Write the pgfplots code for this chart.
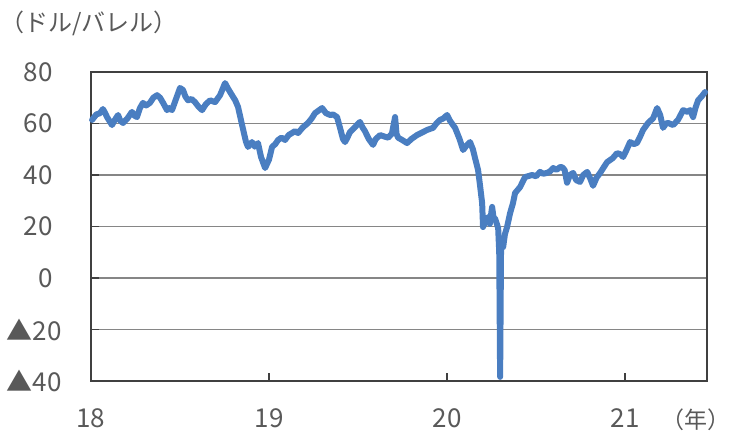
\documentclass[border=0pt]{standalone}
\usepackage{fontspec}
\setmainfont{Noto Sans CJK JP}
\usepackage{pgfplots}
\pgfplotsset{compat=1.18}
\definecolor{wti}{RGB}{74,126,193}
\definecolor{lbl}{RGB}{89,89,89}
\definecolor{grd}{RGB}{134,134,134}
\definecolor{frm}{RGB}{64,64,64}
\begin{document}
\begin{tikzpicture}[x=1pt,y=1pt]
\useasboundingbox (0,0) rectangle (732,439);
\node[anchor=west,text=lbl,font=\fontsize{24}{28}\selectfont,inner sep=0pt] at (0,416) {（ドル/バレル）};
\node[anchor=east,text=lbl,font=\fontsize{23}{27}\selectfont,inner sep=0pt] at (731,19) {（年）};
\begin{axis}[
  at={(91pt,58pt)}, anchor=south west,
  scale only axis, width=616pt, height=309pt,
  xmin=18, xmax=21.46, ymin=-40, ymax=80,
  xtick={18,19,20,21}, xticklabels={18,19,20,21},
  ytick={-40,-20,0,20,40,60,80},
  yticklabels={▲40,▲20,0\kern9pt,20\kern9pt,40\kern9pt,60\kern9pt,80\kern9pt},
  tick align=inside, tick pos=left, major tick length=8pt,
  tick style={frm, line width=1.5pt},
  axis line style={frm, line width=1.6pt},
  ymajorgrids, grid style={grd, line width=1.8pt},
  ticklabel style={text=lbl, font=\fontsize{26}{30}\selectfont, inner sep=0pt},
  xticklabel style={anchor=center, yshift=-37pt},
  yticklabel style={anchor=east, xshift=-29pt},
  clip=false,
]
\addplot[wti, line width=6pt, line join=round, line cap=round] coordinates {
(18.006,61.4)(18.030,63.5)(18.050,64.0)(18.067,65.6)(18.080,64.0)(18.090,62.5)(18.118,59.4)(18.135,61.5)(18.152,63.3)(18.165,61.0)(18.180,60.2)(18.205,62.0)(18.230,64.5)(18.245,63.0)(18.258,62.5)(18.275,66.0)(18.292,68.0)(18.310,67.0)(18.331,68.0)(18.350,70.0)(18.371,71.0)(18.388,70.0)(18.405,68.0)(18.427,65.2)(18.440,66.0)(18.455,65.2)(18.480,70.0)(18.500,73.8)(18.517,73.0)(18.530,70.5)(18.545,69.0)(18.565,69.5)(18.584,68.3)(18.604,66.5)(18.624,65.2)(18.645,67.5)(18.669,69.0)(18.697,68.3)(18.725,71.0)(18.753,75.7)(18.770,73.5)(18.792,71.0)(18.810,69.0)(18.826,66.4)(18.850,59.0)(18.870,53.0)(18.882,50.9)(18.904,52.8)(18.920,51.0)(18.938,52.4)(18.955,47.0)(18.978,42.7)(19.000,46.0)(19.017,50.9)(19.035,52.0)(19.051,53.6)(19.070,54.5)(19.090,53.6)(19.110,55.5)(19.129,56.3)(19.145,57.0)(19.163,56.3)(19.190,58.5)(19.219,60.2)(19.240,62.0)(19.258,64.0)(19.278,65.0)(19.298,66.0)(19.320,64.0)(19.343,63.3)(19.360,63.5)(19.382,62.5)(19.400,58.0)(19.415,54.0)(19.427,52.8)(19.440,54.5)(19.455,56.7)(19.475,58.0)(19.495,59.5)(19.511,60.6)(19.525,58.5)(19.539,57.0)(19.560,54.0)(19.584,51.7)(19.600,54.0)(19.624,55.5)(19.645,55.0)(19.669,54.5)(19.690,56.0)(19.708,62.5)(19.716,56.0)(19.725,54.5)(19.750,53.5)(19.775,52.4)(19.800,54.0)(19.831,55.5)(19.860,56.5)(19.888,57.5)(19.921,58.3)(19.940,60.0)(19.961,61.4)(19.980,62.0)(20.000,63.3)(20.017,61.0)(20.045,58.3)(20.070,54.0)(20.090,49.7)(20.110,51.5)(20.129,52.8)(20.145,50.0)(20.157,46.6)(20.174,42.0)(20.185,36.0)(20.197,29.1)(20.202,19.8)(20.215,22.0)(20.230,23.7)(20.240,21.0)(20.253,27.6)(20.262,23.0)(20.270,23.0)(20.287,19.4)(20.293,10.0)(20.298,-38.4)(20.303,10.0)(20.309,14.8)(20.315,12.0)(20.325,17.0)(20.337,19.8)(20.354,25.2)(20.370,29.0)(20.382,33.0)(20.410,35.3)(20.438,39.2)(20.478,40.0)(20.500,39.5)(20.522,41.2)(20.540,40.5)(20.562,40.8)(20.580,41.5)(20.596,42.7)(20.615,42.0)(20.635,43.1)(20.646,43.0)(20.660,42.0)(20.674,37.0)(20.690,40.0)(20.708,40.8)(20.725,38.0)(20.747,37.3)(20.765,40.0)(20.787,41.2)(20.805,38.5)(20.820,35.8)(20.840,39.0)(20.860,40.8)(20.880,43.0)(20.899,45.0)(20.930,46.5)(20.955,48.5)(20.975,48.0)(20.989,47.0)(21.010,50.0)(21.028,52.8)(21.050,52.0)(21.067,52.5)(21.085,55.0)(21.101,57.5)(21.129,60.2)(21.157,62.0)(21.180,66.0)(21.197,63.3)(21.213,58.3)(21.230,60.0)(21.242,60.2)(21.270,59.4)(21.298,61.5)(21.326,65.2)(21.350,64.5)(21.365,65.2)(21.382,62.5)(21.395,66.0)(21.410,69.0)(21.430,70.5)(21.449,72.2)
};
\end{axis}
\end{tikzpicture}
\end{document}
